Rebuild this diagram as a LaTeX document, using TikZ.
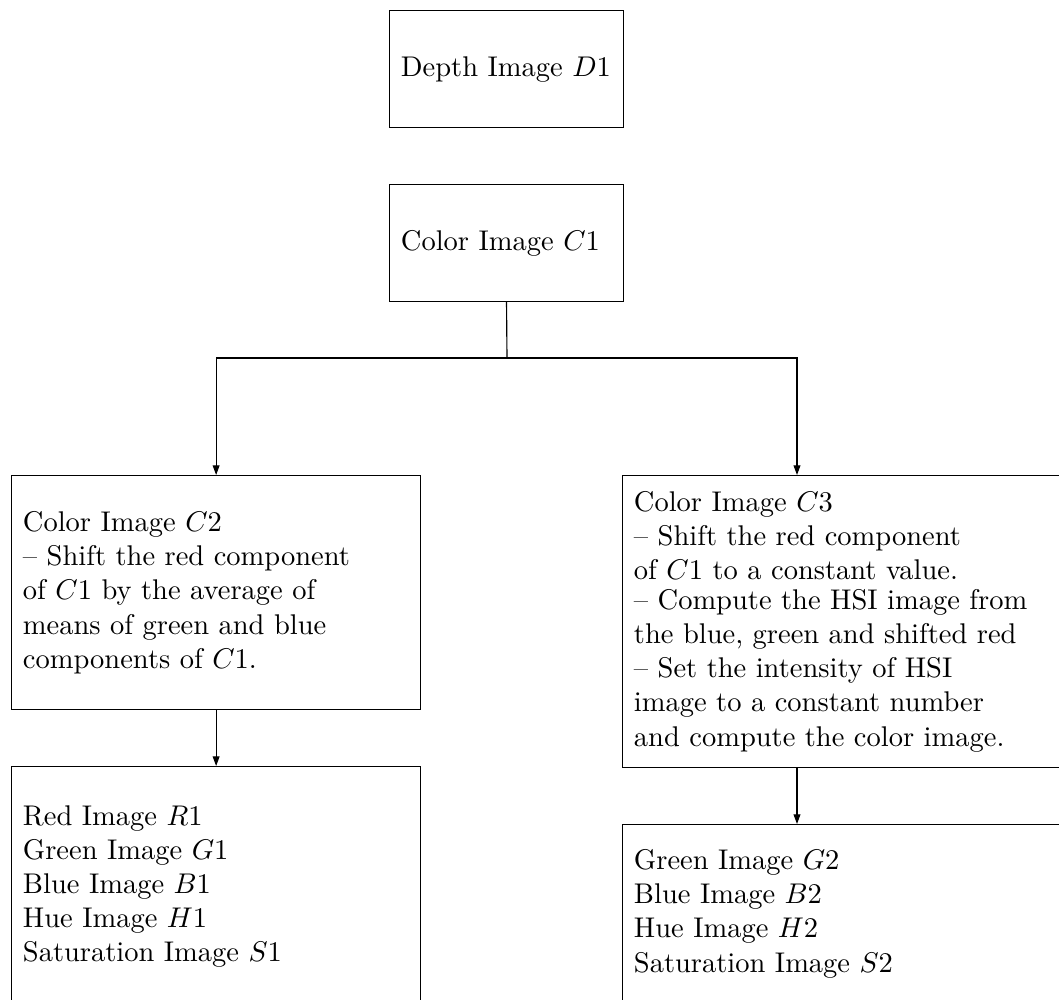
\documentclass[tikz,border=0pt]{standalone}
\usetikzlibrary{arrows.meta}
\begin{document}
\begin{tikzpicture}[x=0.351pt,y=-0.351pt,
  box/.style={draw, line width=0.4pt, inner xsep=4pt, inner ysep=0pt, anchor=north west, align=left},
  arr/.style={-{Triangle[length=3.4pt,width=2.4pt]}, line width=0.4pt}]
\useasboundingbox (0,0) rectangle (1059,999);
\node[box, text width=74.1pt, minimum height=41.1pt] (d1) at (389,10) {Depth Image $D1$};
\node[box, text width=74.1pt, minimum height=41.1pt] (c1) at (389,184) {Color Image $C1$};
\node[box, text width=135.6pt, minimum height=82.1pt] (c2) at (11,475)
  {Color Image $C2$\\-- Shift the red component\\of $C1$ by the average of\\means of green and blue\\components of $C1$.};
\node[box, text width=153.5pt, minimum height=102.5pt] (c3) at (622,475)
  {Color Image $C3$\\-- Shift the red component\\of $C1$ to a constant value.\\[-1.6pt]-- Compute the HSI image from\\the blue, green and shifted red\\-- Set the intensity of HSI\\image to a constant number\\and compute the color image.};
\node[box, text width=135.6pt, minimum height=84.2pt] (r) at (11,766)
  {Red Image $R1$\\Green Image $G1$\\Blue Image $B1$\\Hue Image $H1$\\Saturation Image $S1$};
\node[box, text width=153.5pt, minimum height=62.5pt] (g2) at (622,824)
  {Green Image $G2$\\Blue Image $B2$\\Hue Image $H2$\\Saturation Image $S2$};
\coordinate (j) at (507,358);
\coordinate (c3top) at (797,475);
\draw[line width=0.4pt] (c1.south) -- (j);
\draw[arr] (j) -| (c2.north);
\draw[arr] (j) -| (c3top);
\draw[arr] (c2.south) -- (r.north);
\draw[arr] (c3.south west -| c3top) -- (g2.north west -| c3top);
\end{tikzpicture}
\end{document}
